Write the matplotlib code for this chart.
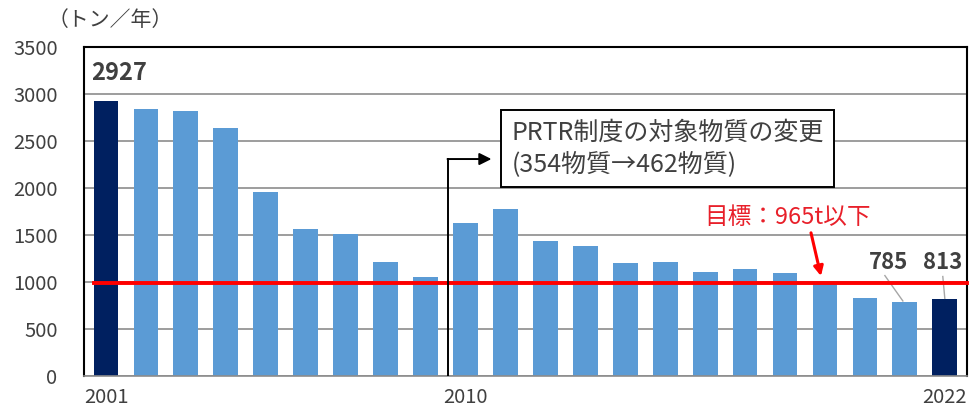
import matplotlib
matplotlib.use("Agg")
import matplotlib.pyplot as plt

plt.rcParams['font.family'] = ['Noto Sans CJK JP', 'DejaVu Sans']

years = list(range(2001, 2023))
values = [2927, 2834, 2816, 2632, 1954, 1557, 1504, 1213, 1050, 1621, 1773,
          1433, 1380, 1202, 1213, 1106, 1132, 1089, 972, 830, 785, 813]
highlight_years = [2001, 2022]
xtick_years = [2001, 2010, 2022]
yticks = [0, 500, 1000, 1500, 2000, 2500, 3000, 3500]
target_value = 985
target_label = "目標：965t以下"
unit_label = "（トン／年）"
note_lines = "PRTR制度の対象物質の変更\n(354物質→462物質)"

light = "#5B9BD5"
dark = "#002060"
txt = "#404040"

fig = plt.figure(figsize=(9.69, 4.16), dpi=100)
ax = fig.add_axes([0.0867, 0.0969, 0.911, 0.7908])

idx = list(range(len(years)))
colors = [dark if y in highlight_years else light for y in years]
ax.bar(idx, values, width=0.62, color=colors, zorder=2)

ax.set_xlim(-0.55, len(years) - 0.45)
ax.set_ylim(0, 3500)
ax.set_yticks(yticks)
ax.set_yticklabels([str(v) for v in yticks], fontsize=14.5, color=txt)
ax.set_xticks([years.index(y) for y in xtick_years])
ax.set_xticklabels([str(y) for y in xtick_years], fontsize=14.5, color=txt)
ax.tick_params(axis='y', length=0, pad=19)
ax.tick_params(axis='x', length=0, pad=8)
ax.yaxis.grid(True, color="#8c8c8c", linewidth=1.2, zorder=0)
ax.set_axisbelow(True)
for s in ['left', 'top', 'right']:
    ax.spines[s].set_color('black')
    ax.spines[s].set_linewidth(1.5)
ax.spines['bottom'].set_color('#8c8c8c')
ax.spines['bottom'].set_linewidth(1.2)

# target line
ax.plot([-0.31, len(years) - 0.45], [target_value, target_value], color="#FF0000",
        linewidth=2.8, zorder=4, clip_on=False)

# value labels
ax.text(-0.38, 3220, str(values[0]), fontsize=17, fontweight='bold', color=txt,
        ha='left', va='center', zorder=5)
ax.text(19.6, 1200, str(values[20]), fontsize=16, fontweight='bold', color=txt,
        ha='center', va='center', zorder=5)
ax.text(20.95, 1200, str(values[21]), fontsize=16, fontweight='bold', color=txt,
        ha='center', va='center', zorder=5)
ax.plot([19.5, 19.95], [1065, values[20] + 10], color="#a6a6a6", linewidth=1, zorder=3)
ax.plot([20.95, 21.0], [1055, values[21] + 10], color="#a6a6a6", linewidth=1, zorder=3)

# note box with elbow arrow
ax.plot([8.55, 8.55], [0, 2305], color='black', linewidth=1.4, zorder=5)
ax.annotate("", xy=(9.65, 2305), xytext=(8.55, 2305),
            arrowprops=dict(arrowstyle='-|>', color='black', lw=1.4,
                            mutation_scale=18, shrinkA=0, shrinkB=0), zorder=5)
ax.text(10.15, 2420, note_lines, fontsize=18, color=txt, ha='left', va='center',
        linespacing=1.25, zorder=6,
        bbox=dict(boxstyle='square,pad=0.4', facecolor='white', edgecolor='black',
                  linewidth=1.4))

# target label and arrow
ax.text(17.05, 1680, target_label, fontsize=17, color="#E8202A", ha='center',
        va='center', zorder=6)
ax.annotate("", xy=(17.9, 1060), xytext=(17.65, 1520),
            arrowprops=dict(arrowstyle='-|>', color="#FF0000", lw=2.2,
                            mutation_scale=14, shrinkA=0, shrinkB=0), zorder=6)

fig.text(0.114, 0.953, unit_label, fontsize=15, color=txt, ha='center', va='center')

fig.savefig("out.png", dpi=100)
